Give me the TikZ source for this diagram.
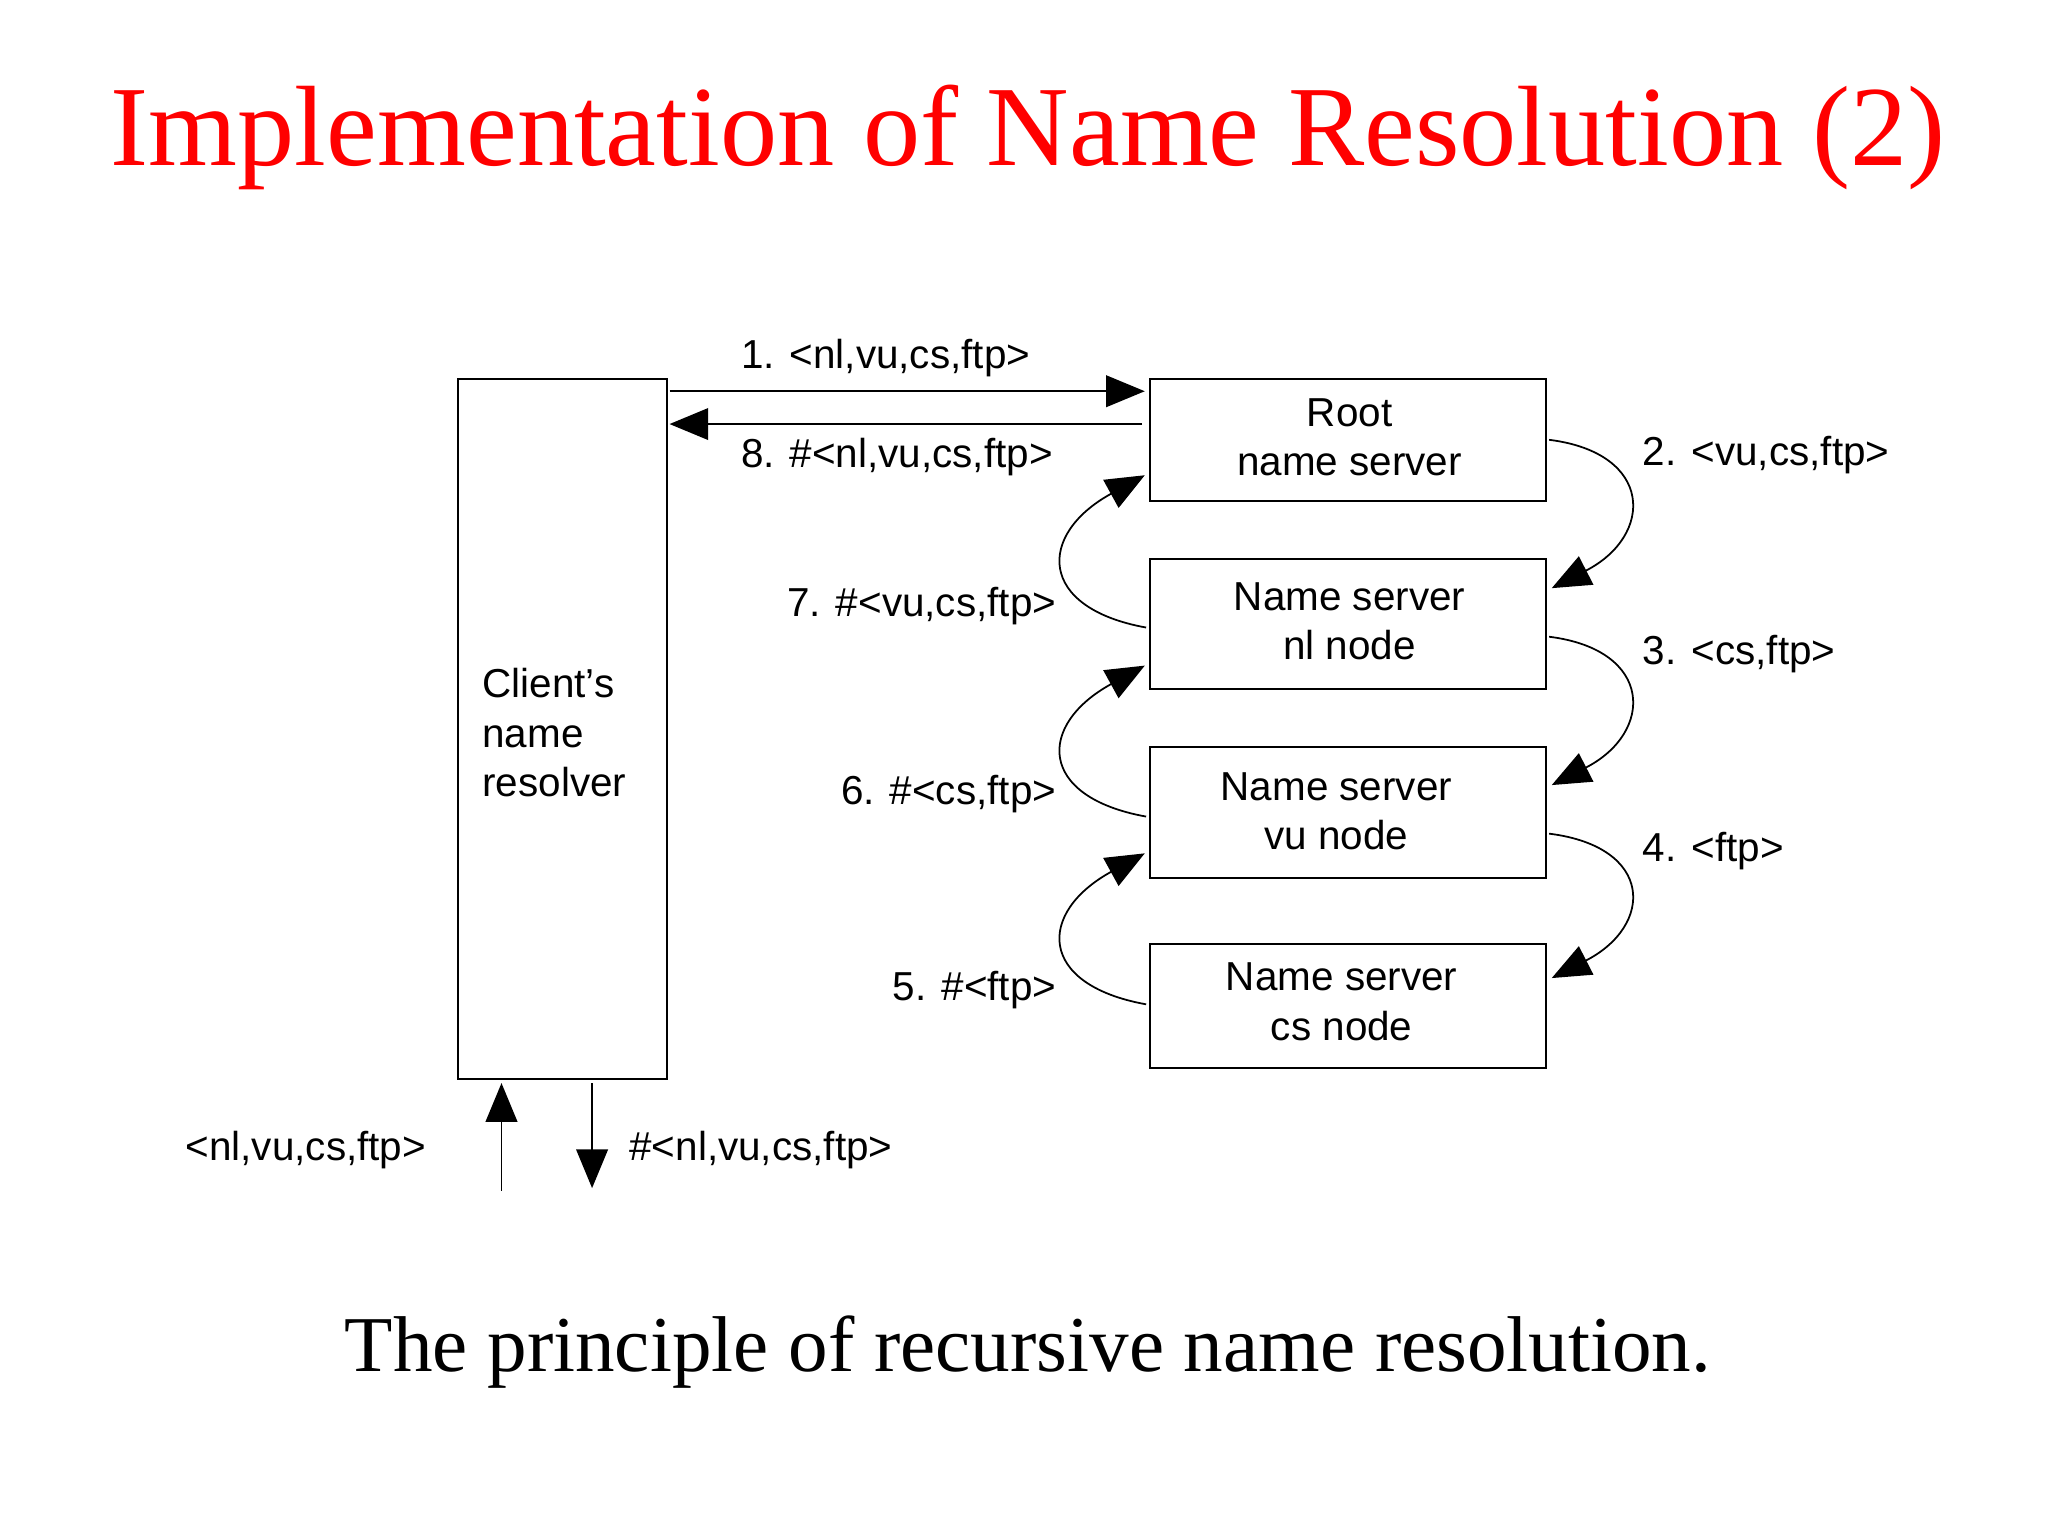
\documentclass[tikz,border=0pt]{standalone}
\usepackage{fontspec}
\setmainfont{Liberation Serif}
\setsansfont{Liberation Sans}
\usetikzlibrary{arrows.meta}
\begin{document}
\begin{tikzpicture}[x=0.01313cm,y=-0.01313cm,
  box/.style={draw,line width=0.6pt,anchor=north west,inner sep=0pt},
  lbl/.style={font=\sffamily\fontsize{11.5}{14}\selectfont},
  arr/.style={line width=0.5pt,-{Triangle[length=11pt,width=9pt]}}]
\useasboundingbox (0,0) rectangle (1560,1170);
\node[text=red,font=\fontsize{32.5}{36}\selectfont] (title) at (783,105) {Implementation of Name Resolution (2)};
\node[font=\fontsize{22.5}{28}\selectfont] (cap) at (783,1030) {The principle of recursive name resolution.};
\node[box,minimum width=159*0.01313cm,minimum height=533*0.01313cm] (cl) at (348,288) {};
\node[lbl,align=left,anchor=west] (clt) at (358,558) {Client's\\name\\resolver};
\node[box,minimum width=302*0.01313cm,minimum height=93*0.01313cm] (root) at (875,288) {};
\node[lbl,align=center] at (1028,333) {Root\\name server};
\node[box,minimum width=302*0.01313cm,minimum height=99*0.01313cm] (nl) at (875,425) {};
\node[lbl,align=center] at (1028,473) {Name server\\nl node};
\node[box,minimum width=302*0.01313cm,minimum height=100*0.01313cm] (vu) at (875,568) {};
\node[lbl,align=center] at (1018,618) {Name server\\vu node};
\node[box,minimum width=302*0.01313cm,minimum height=95*0.01313cm] (cs) at (875,718) {};
\node[lbl,align=center] at (1022,763) {Name server\\cs node};
% top arrows
\coordinate (a1) at (510,298); \coordinate (b1) at (872,298);
\draw[arr] (a1) -- (b1);
\coordinate (a8) at (870,323); \coordinate (b8) at (510,323);
\draw[arr] (a8) -- (b8);
\node[lbl,anchor=west] at (555,273) {1. <nl,vu,cs,ftp>};
\node[lbl,anchor=west] at (555,348) {8. \#<nl,vu,cs,ftp>};
% right curves
\foreach \ya/\yb in {335/448, 485/598, 635/745}{
  \draw[arr] (1180,\ya) .. controls (1260,\ya+10) and (1260,\yb-40) .. (1182,\yb);
}
\node[lbl,anchor=west] at (1242,347) {2. <vu,cs,ftp>};
\node[lbl,anchor=west] at (1242,498) {3. <cs,ftp>};
\node[lbl,anchor=west] at (1242,648) {4. <ftp>};
% left curves
\foreach \ya/\yb in {478/362, 622/507, 765/650}{
  \draw[arr] (873,\ya) .. controls (790,\ya-15) and (790,\yb+45) .. (872,\yb);
}
\node[lbl,anchor=east] at (814,462) {7. \#<vu,cs,ftp>};
\node[lbl,anchor=east] at (814,605) {6. \#<cs,ftp>};
\node[lbl,anchor=east] at (814,754) {5. \#<ftp>};
% bottom
\coordinate (u0) at (382,907); \coordinate (u1) at (382,825);
\draw[arr] (u0) -- (u1);
\coordinate (d0) at (451,825); \coordinate (d1) at (451,905);
\draw[arr] (d0) -- (d1);
\node[lbl,anchor=east] at (334,876) {<nl,vu,cs,ftp>};
\node[lbl,anchor=west] at (470,876) {\#<nl,vu,cs,ftp>};
\end{tikzpicture}
\end{document}
